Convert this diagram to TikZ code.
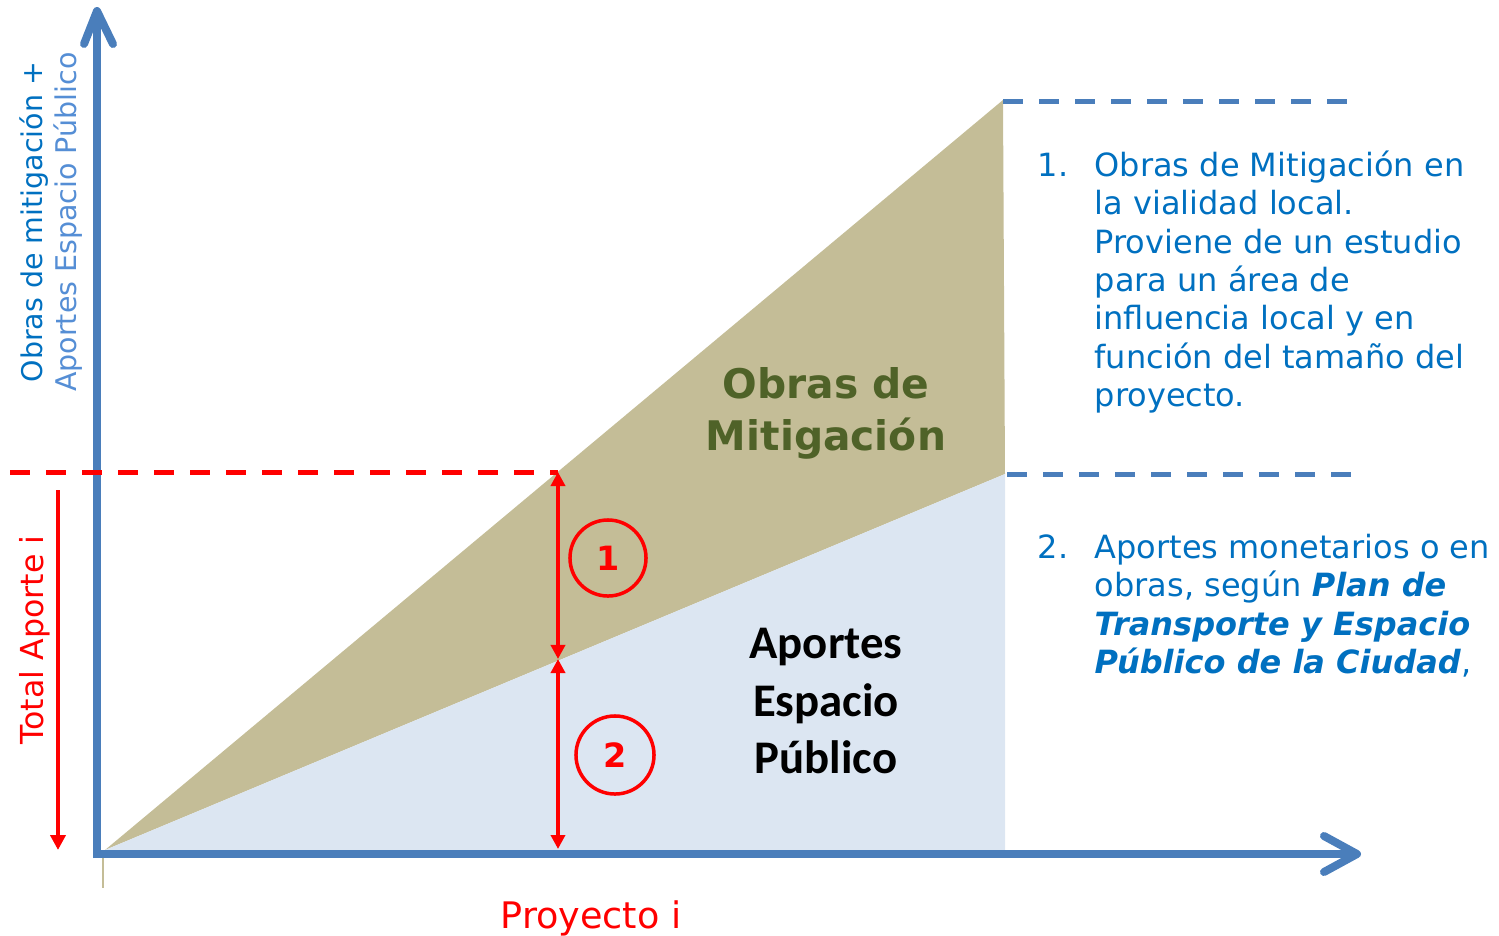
\documentclass[tikz,border=0pt]{standalone}
\usepackage{fontspec}
\setmainfont{DejaVu Sans}
\newfontfamily\calfont{Carlito}
\usetikzlibrary{arrows.meta}
\definecolor{axisblue}{RGB}{74,126,187}
\definecolor{textblue}{RGB}{0,112,192}
\definecolor{lightlabel}{RGB}{85,142,213}
\definecolor{tanfill}{RGB}{196,189,151}
\definecolor{bluefill}{RGB}{220,230,242}
\definecolor{olive}{RGB}{79,98,40}
\definecolor{pured}{RGB}{255,0,0}
\tikzset{
  axisline/.style={draw=axisblue, line width=0.08cm},
  chevron/.style={draw=axisblue, line width=0.08cm, line cap=round, line join=round},
  bluedash/.style={draw=axisblue, line width=0.05cm, dash pattern=on 0.2cm off 0.16cm},
  reddash/.style={draw=pured, line width=0.05cm, dash pattern=on 0.2cm off 0.16cm},
  redarrow/.style={draw=pured, line width=0.035cm, {Triangle[length=0.14cm,width=0.14cm]}-{Triangle[length=0.14cm,width=0.14cm]}},
  txt/.style={font=\fontsize{9.1pt}{11pt}\selectfont, text=textblue, anchor=base west, inner sep=0pt},
  numcircle/.style={circle, draw=pured, line width=0.035cm, inner sep=0pt, text=pured, font=\fontsize{9.5pt}{11pt}\selectfont\bfseries},
}
\begin{document}
\begin{tikzpicture}[x=0.01cm,y=-0.01cm]
\useasboundingbox (0,0) rectangle (1499,936);
% key points
\coordinate (O) at (105,850);
\coordinate (T) at (1003,100);
\coordinate (R) at (1005,474);
\coordinate (B) at (1005,850);
\coordinate (P) at (558,472);
\coordinate (M) at (558,659);
\coordinate (Pb) at (558,849);
% regions
\fill[tanfill] (O) -- (T) -- (R) -- cycle;
\fill[bluefill] (O) -- (R) -- (B) -- cycle;
\draw[tanfill, line width=0.4pt] (103,850) -- (103,888);
% axes
\coordinate (ybot) at (97,858);
\coordinate (ytop) at (97,14);
\coordinate (xl) at (93,854);
\coordinate (xr) at (1353,854);
\draw[axisline] (ybot) -- (ytop);
\draw[chevron] (84,44) -- (97,11) -- (113,44);
\draw[axisline] (xl) -- (xr);
\draw[chevron] (1324,836) -- (1357,854) -- (1324,872);
% dashed lines
\coordinate (rd0) at (10,472);
\draw[reddash] (rd0) -- (P);
\coordinate (bd1a) at (1003,101);
\coordinate (bd1b) at (1348,101);
\coordinate (bd2a) at (1007,474);
\coordinate (bd2b) at (1352,474);
\draw[bluedash] (bd1a) -- (bd1b);
\draw[bluedash] (bd2a) -- (bd2b);
% red arrows
\draw[redarrow] (P) -- (M);
\draw[redarrow] (M) -- (Pb);
\coordinate (ta0) at (58,490);
\coordinate (ta1) at (58,850);
\draw[draw=pured, line width=0.04cm, -{Triangle[length=0.15cm,width=0.15cm]}] (ta0) -- (ta1);
% circles
\node[numcircle, minimum size=0.76cm] (c1) at (608,558) {1};
\node[numcircle, minimum size=0.78cm] (c2) at (615,755) {2};
% axis labels
\node[rotate=90, anchor=base, inner sep=0pt, text=textblue, font=\fontsize{8.1pt}{10pt}\selectfont] (yl1) at (42,222) {Obras de mitigación +};
\node[rotate=90, anchor=base, inner sep=0pt, text=lightlabel, font=\fontsize{8.1pt}{10pt}\selectfont] (yl2) at (77,222) {Aportes Espacio Público};
\node[rotate=90, anchor=base, inner sep=0pt, text=pured, font=\fontsize{9pt}{11pt}\selectfont] (tot) at (43,640) {Total Aporte i};
\node[anchor=base, inner sep=0pt, text=pured, font=\fontsize{10.4pt}{12pt}\selectfont] (proy) at (591,928) {Proyecto i};
% region labels
\node[anchor=base, inner sep=0pt, text=olive, font=\fontsize{11.6pt}{14pt}\selectfont\bfseries] (om1) at (826,398) {Obras de};
\node[anchor=base, inner sep=0pt, text=olive, font=\fontsize{11.6pt}{14pt}\selectfont\bfseries] (om2) at (826,450) {Mitigación};
\node[anchor=base, inner sep=0pt, text=black, font=\fontsize{13.3pt}{16pt}\selectfont\calfont\bfseries] (ae1) at (826,658) {Aportes};
\node[anchor=base, inner sep=0pt, text=black, font=\fontsize{13.3pt}{16pt}\selectfont\calfont\bfseries] (ae2) at (826,716) {Espacio};
\node[anchor=base, inner sep=0pt, text=black, font=\fontsize{13.3pt}{16pt}\selectfont\calfont\bfseries] (ae3) at (826,773) {Público};
% text block 1
\node[txt] (n1) at (1037,176) {1.};
\node[txt] (a1) at (1094,176) {Obras de Mitigación en};
\node[txt] (a2) at (1094,214) {la vialidad local.};
\node[txt] (a3) at (1094,253) {Proviene de un estudio};
\node[txt] (a4) at (1094,291) {para un área de};
\node[txt] (a5) at (1094,329) {influencia local y en};
\node[txt] (a6) at (1094,368) {función del tamaño del};
\node[txt] (a7) at (1094,406) {proyecto.};
% text block 2
\node[txt] (n2) at (1037,558) {2.};
\node[txt] (b1) at (1094,558) {Aportes monetarios o en};
\node[txt] (b2) at (1094,596) {obras, según \textbf{\textit{Plan de}}};
\node[txt] (b3) at (1094,635) {\textbf{\textit{Transporte y Espacio}}};
\node[txt] (b4) at (1094,673) {\textbf{\textit{Público de la Ciudad}},};
\end{tikzpicture}
\end{document}
